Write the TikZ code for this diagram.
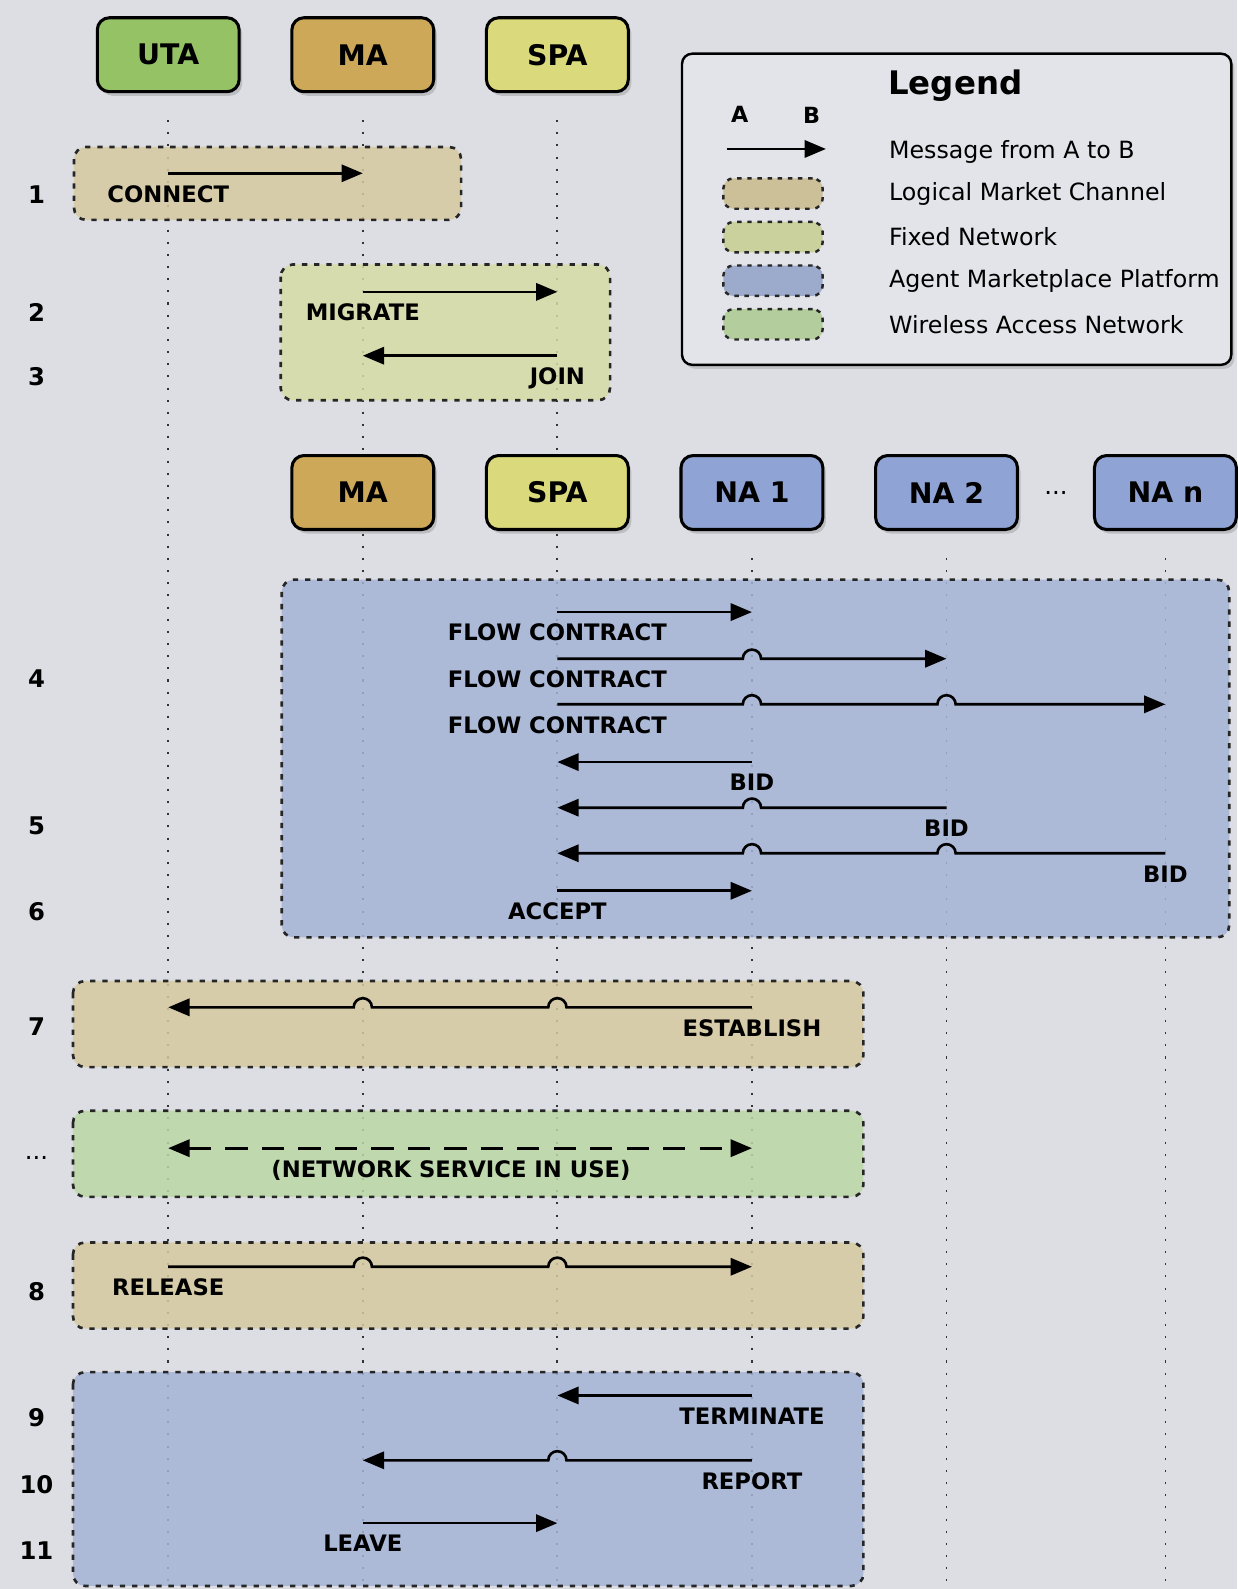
\documentclass[tikz,border=0pt]{standalone}
\usepackage{fontspec}
\setmainfont{DejaVu Sans}
\usepackage{xcolor}
\usetikzlibrary{positioning,arrows.meta,shadows,backgrounds}

\definecolor{colPage}{RGB}{221,222,228}
\definecolor{colUta}{RGB}{148,194,100}
\definecolor{colMa}{RGB}{204,168,88}
\definecolor{colSpa}{RGB}{218,218,125}
\definecolor{colNa}{RGB}{143,163,212}
\definecolor{colTan}{RGB}{214,202,160}
\definecolor{colFix}{RGB}{214,220,165}
\definecolor{colBlue}{RGB}{164,180,214}
\definecolor{colGreen}{RGB}{188,216,165}
\definecolor{colLegend}{RGB}{227,228,233}

\begin{document}
\begin{tikzpicture}
[
x=0.5pt, y=-0.5pt,
head-a/.style={rectangle, rounded corners=6pt, draw, line width=1.5pt, outer sep=0pt, minimum width=70pt, minimum height=36.5pt, font=\fontsize{14}{16}\selectfont\bfseries, drop shadow={opacity=0.35, shadow xshift=1.5pt, shadow yshift=-2pt}},
area-a/.style={draw=black!85, rounded corners=6pt, line width=1.3pt, dash pattern=on 2.6pt off 3.4pt, fill opacity=0.85},
life-a/.style={draw=black!80, line width=0.9pt, dash pattern=on 1pt off 5pt},
msg-a/.style={line width=1.3pt, -{Triangle[length=10.5pt, width=8.5pt]}},
msg-b/.style={line width=1.3pt, {Triangle[length=10.5pt, width=8.5pt]}-{Triangle[length=10.5pt, width=8.5pt]}, dash pattern=on 11pt off 7pt},
text-a/.style={font=\fontsize{11.2}{13}\selectfont\bfseries, inner sep=0pt, text height=8.2pt, text depth=0pt},
num-a/.style={font=\fontsize{12}{14}\selectfont\bfseries},
legend-a/.style={rectangle, rounded corners=5pt, draw, line width=1.2pt, fill=colLegend, drop shadow={opacity=0.3, shadow xshift=1.5pt, shadow yshift=-2pt}},
item-a/.style={anchor=west, inner sep=0pt, font=\fontsize{11.7}{13}\selectfont},
swatch-a/.style={rectangle, rounded corners=5pt, draw=black!85, line width=1.2pt, dash pattern=on 2.2pt off 2.8pt, minimum width=49pt, minimum height=15pt, inner sep=0pt}
]
\useasboundingbox (0,0) rectangle (1221,1568);

% agents
\node (uta)   [head-a, fill=colUta]                       at (166,54) {UTA};
\node (ma)    [head-a, fill=colMa,  right = 26pt of uta  ]             {MA};
\node (spa)   [head-a, fill=colSpa, right = 26pt of ma   ]             {SPA};
\node (ma-2)  [head-a, fill=colMa,  below = 179.5pt of ma]             {MA};
\node (spa-2) [head-a, fill=colSpa, right = 26pt of ma-2 ]             {SPA};
\node (na-1)  [head-a, fill=colNa,  right = 26pt of spa-2]             {NA 1};
\node (na-2)  [head-a, fill=colNa,  right = 26pt of na-1 ]             {NA 2};
\node (dots)  [inner sep=0pt, outer sep=0pt, minimum width=38pt, right = 0pt of na-2] {\fontsize{12}{14}\selectfont ...};
\node (na-n)  [head-a, fill=colNa,  right = 0pt of dots  ]             {NA n};

% lifelines and areas
\begin{pgfonlayer}{background}
\fill [colPage] (0,0) rectangle (1221,1568);
\coordinate (bottom) at (0,1568);
\foreach \a in {uta, ma, spa, na-1, na-2, na-n}
  \draw [life-a] ([yshift=-14pt]\a.south) -- (\a |- bottom);
\draw [area-a, fill=colTan]   (73,145)   rectangle (455,217);
\draw [area-a, fill=colFix]   (277,261)  rectangle (602,395);
\draw [area-a, fill=colBlue]  (278,572)  rectangle (1213,925);
\draw [area-a, fill=colTan]   (72,968)   rectangle (852,1053);
\draw [area-a, fill=colGreen] (72,1096)  rectangle (852,1181);
\draw [area-a, fill=colTan]   (72,1226)  rectangle (852,1311);
\draw [area-a, fill=colBlue]  (72,1354)  rectangle (852,1565);
\end{pgfonlayer}

% legend
\node (legend) [legend-a, minimum width=271pt, minimum height=153.5pt] at (944,206.5) {};
\node (legend-t) [anchor=west, inner sep=0pt, font=\fontsize{16}{18}\selectfont\bfseries] at (876,85) {Legend};
\node (leg-a) [font=\fontsize{11}{13}\selectfont\bfseries] at (730,113) {A};
\node (leg-b) [font=\fontsize{11}{13}\selectfont\bfseries] at (801,114) {B};
\coordinate (leg-from) at (717,147);
\coordinate (leg-to)   at (815,147);
\draw [msg-a] (leg-from) -- (leg-to);
\node (leg-1) [item-a] at (877,150) {Message from A to B};
\node (leg-2) [item-a] at (877,191) {Logical Market Channel};
\node (leg-3) [item-a] at (877,234) {Fixed Network};
\node (leg-4) [item-a] at (877,277) {Agent Marketplace Platform};
\node (leg-5) [item-a] at (877,320) {Wireless Access Network};
\node (sw-2) [swatch-a, fill=colTan!95!black,  left = 32pt of leg-2] {};
\node (sw-3) [swatch-a, fill=colFix!95!black,  left = 32pt of leg-3] {};
\node (sw-4) [swatch-a, fill=colBlue!95!black, left = 32pt of leg-4] {};
\node (sw-5) [swatch-a, fill=colGreen!95!black,left = 32pt of leg-5] {};

% step numbers
\node (num-1)  [num-a] at (36,192)  {1};
\node (num-2)  [num-a] at (36,308)  {2};
\node (num-3)  [num-a] at (36,372)  {3};
\node (num-4)  [num-a] at (36,670)  {4};
\node (num-5)  [num-a] at (36,815)  {5};
\node (num-6)  [num-a] at (36,900)  {6};
\node (num-7)  [num-a] at (36,1013) {7};
\node (num-x)  [num-a] at (36,1143) {\mdseries ...};
\node (num-8)  [num-a] at (36,1275) {8};
\node (num-9)  [num-a] at (36,1399) {9};
\node (num-10) [num-a] at (36,1465) {10};
\node (num-11) [num-a] at (36,1530) {11};

% 1-3
\coordinate (connect-a) at (uta |- 0,171);
\coordinate (connect-b) at (ma |- 0,171);
\draw [msg-a] (connect-a) -- (connect-b);
\node (connect-t) [text-a, below = 5.8pt of connect-a] {CONNECT};
\coordinate (migrate-a) at (ma |- 0,288);
\coordinate (migrate-b) at (spa |- 0,288);
\draw [msg-a] (migrate-a) -- (migrate-b);
\node (migrate-t) [text-a, below = 5.8pt of migrate-a] {MIGRATE};
\coordinate (join-a) at (spa |- 0,351);
\coordinate (join-b) at (ma |- 0,351);
\draw [msg-a] (join-a) -- (join-b);
\node (join-t) [text-a, below = 5.8pt of join-a] {JOIN};

% 4
\coordinate (fc-1-a) at (spa |- 0,604);
\coordinate (fc-1-b) at (na-1 |- 0,604);
\draw [msg-a] (fc-1-a) -- (fc-1-b);
\node (fc-1-t) [text-a, below = 5.8pt of fc-1-a] {FLOW CONTRACT};
\coordinate (fc-2-a) at (spa |- 0,650);
\coordinate (fc-2-b) at (na-2 |- 0,650);
\draw [msg-a] (fc-2-a) -- ([xshift=-4.5pt]na-1 |- fc-2-a) arc [start angle=180, end angle=0, radius=4.5pt] -- (fc-2-b);
\node (fc-2-t) [text-a, below = 5.8pt of fc-2-a] {FLOW CONTRACT};
\coordinate (fc-3-a) at (spa |- 0,695);
\coordinate (fc-3-b) at (na-n |- 0,695);
\draw [msg-a] (fc-3-a) -- ([xshift=-4.5pt]na-1 |- fc-3-a) arc [start angle=180, end angle=0, radius=4.5pt]
  -- ([xshift=-4.5pt]na-2 |- fc-3-a) arc [start angle=180, end angle=0, radius=4.5pt] -- (fc-3-b);
\node (fc-3-t) [text-a, below = 5.8pt of fc-3-a] {FLOW CONTRACT};

% 5
\coordinate (bid-1-a) at (na-1 |- 0,752);
\coordinate (bid-1-b) at (spa |- 0,752);
\draw [msg-a] (bid-1-a) -- (bid-1-b);
\node (bid-1-t) [text-a, below = 5.8pt of bid-1-a] {BID};
\coordinate (bid-2-a) at (na-2 |- 0,797);
\coordinate (bid-2-b) at (spa |- 0,797);
\draw [msg-a] (bid-2-a) -- ([xshift=4.5pt]na-1 |- bid-2-a) arc [start angle=0, end angle=180, radius=4.5pt] -- (bid-2-b);
\node (bid-2-t) [text-a, below = 5.8pt of bid-2-a] {BID};
\coordinate (bid-3-a) at (na-n |- 0,842);
\coordinate (bid-3-b) at (spa |- 0,842);
\draw [msg-a] (bid-3-a) -- ([xshift=4.5pt]na-2 |- bid-3-a) arc [start angle=0, end angle=180, radius=4.5pt]
  -- ([xshift=4.5pt]na-1 |- bid-3-a) arc [start angle=0, end angle=180, radius=4.5pt] -- (bid-3-b);
\node (bid-3-t) [text-a, below = 5.8pt of bid-3-a] {BID};

% 6
\coordinate (accept-a) at (spa |- 0,879);
\coordinate (accept-b) at (na-1 |- 0,879);
\draw [msg-a] (accept-a) -- (accept-b);
\node (accept-t) [text-a, below = 5.8pt of accept-a] {ACCEPT};

% 7
\coordinate (establish-a) at (na-1 |- 0,994);
\coordinate (establish-b) at (uta |- 0,994);
\draw [msg-a] (establish-a) -- ([xshift=4.5pt]spa |- establish-a) arc [start angle=0, end angle=180, radius=4.5pt]
  -- ([xshift=4.5pt]ma |- establish-a) arc [start angle=0, end angle=180, radius=4.5pt] -- (establish-b);
\node (establish-t) [text-a, below = 5.8pt of establish-a] {ESTABLISH};

% service in use
\coordinate (use-a) at (uta |- 0,1133);
\coordinate (use-b) at (na-1 |- 0,1133);
\draw [msg-b] (use-a) -- (use-b) node (use-t) [text-a, midway, below = 5.8pt, xshift=-4.5pt] {(NETWORK SERVICE IN USE)};

% 8
\coordinate (release-a) at (uta |- 0,1250);
\coordinate (release-b) at (na-1 |- 0,1250);
\draw [msg-a] (release-a) -- ([xshift=-4.5pt]ma |- release-a) arc [start angle=180, end angle=0, radius=4.5pt]
  -- ([xshift=-4.5pt]spa |- release-a) arc [start angle=180, end angle=0, radius=4.5pt] -- (release-b);
\node (release-t) [text-a, below = 5.8pt of release-a] {RELEASE};

% 9-11
\coordinate (terminate-a) at (na-1 |- 0,1377);
\coordinate (terminate-b) at (spa |- 0,1377);
\draw [msg-a] (terminate-a) -- (terminate-b);
\node (terminate-t) [text-a, below = 5.8pt of terminate-a] {TERMINATE};
\coordinate (report-a) at (na-1 |- 0,1441);
\coordinate (report-b) at (ma |- 0,1441);
\draw [msg-a] (report-a) -- ([xshift=4.5pt]spa |- report-a) arc [start angle=0, end angle=180, radius=4.5pt] -- (report-b);
\node (report-t) [text-a, below = 5.8pt of report-a] {REPORT};
\coordinate (leave-a) at (ma |- 0,1503);
\coordinate (leave-b) at (spa |- 0,1503);
\draw [msg-a] (leave-a) -- (leave-b);
\node (leave-t) [text-a, below = 5.8pt of leave-a] {LEAVE};
\end{tikzpicture}
\end{document}
